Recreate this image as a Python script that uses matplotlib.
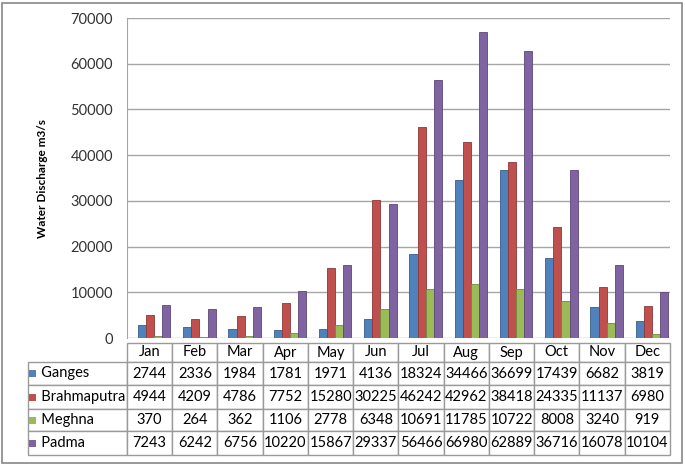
import matplotlib.pyplot as plt
from matplotlib.patches import Rectangle
import numpy as np

plt.rcParams['font.family'] = ['Lato', 'DejaVu Sans']

months = ['Jan', 'Feb', 'Mar', 'Apr', 'May', 'Jun', 'Jul', 'Aug', 'Sep', 'Oct', 'Nov', 'Dec']
rivers = ['Ganges', 'Brahmaputra', 'Meghna', 'Padma']
ganges = [2744, 2336, 1984, 1781, 1971, 4136, 18324, 34466, 36699, 17439, 6682, 3819]
brahmaputra = [4944, 4209, 4786, 7752, 15280, 30225, 46242, 42962, 38418, 24335, 11137, 6980]
meghna = [370, 264, 362, 1106, 2778, 6348, 10691, 11785, 10722, 8008, 3240, 919]
padma = [7243, 6242, 6756, 10220, 15867, 29337, 56466, 66980, 62889, 36716, 16078, 10104]
colors = ['#4F81BD', '#C0504D', '#9BBB59', '#8064A2']
edges = ['#385D8A', '#8C3836', '#71893F', '#5C4776']

W, H = 685, 466
fig = plt.figure(figsize=(W / 100, H / 100), dpi=100)
fig.patches.append(Rectangle((2 / W, 3 / H), 680 / W, 460 / H, transform=fig.transFigure,
                             fill=False, edgecolor='#888888', linewidth=1.2))

left, right, top, bottom = 127, 670, 18, 338
ax_w, ax_h = right - left, bottom - top
ax = fig.add_axes([left / W, 1 - bottom / H, ax_w / W, ax_h / H])

x = np.arange(len(months))
series = [ganges, brahmaputra, meghna, padma]
bw = 0.18
offsets = [-0.27, -0.09, 0.09, 0.27]
for vals, off, c, ec in zip(series, offsets, colors, edges):
    ax.bar(x + off + 0.1, vals, bw, color=c, edgecolor=ec, linewidth=0.6, zorder=3)

ax.set_xlim(-0.5, 11.5)
ax.set_ylim(0, 70000)
ax.set_yticks(np.arange(0, 70001, 10000))
ax.set_xticks([])
ax.tick_params(axis='y', length=0, labelsize=10.5, labelcolor='#333333', pad=10)
ax.yaxis.grid(True, color='#A6A6A6', linewidth=1, zorder=0)
for s in ['top', 'right', 'bottom']:
    ax.spines[s].set_visible(False)
ax.spines['left'].set_color('#A6A6A6')
ax.set_ylabel('Water Discharge m3/s', fontsize=8.5, fontweight='bold', labelpad=16)

# data table below the chart (sizes in axes fractions)
label_w, col_w = 102 / ax_w, 1 / 12
row_hs = [19, 23, 24, 22, 24]
tab_top, tab_bot = 343, 455
cell_text = [[str(v) for v in row] for row in series]
tab = ax.table(cellText=cell_text, rowLabels=['   ' + r for r in rivers], colLabels=months,
               cellLoc='center', rowLoc='left',
               bbox=[0, -(tab_bot - bottom) / ax_h, 1, (tab_bot - tab_top) / ax_h])
tab.auto_set_font_size(False)
tab.set_fontsize(10.5)
for (r, c), cell in tab.get_celld().items():
    cell.set_width(label_w if c == -1 else col_w)
    cell.set_height(row_hs[r] / ax_h)
    cell.set_edgecolor('#9A9A9A')
    cell.set_linewidth(1)
    if c == -1:
        cell.PAD = 0.02

# colored legend keys in the row label cells
yc = tab_top + row_hs[0]
for i, c in enumerate(colors):
    ymid = yc + row_hs[i + 1] / 2
    yc += row_hs[i + 1]
    ax.add_patch(Rectangle(((29 - left) / ax_w, (bottom - ymid - 3.5) / ax_h),
                           7 / ax_w, 7 / ax_h, transform=ax.transAxes,
                           facecolor=c, edgecolor='none', clip_on=False, zorder=5))

fig.savefig('out.png', dpi=100)
